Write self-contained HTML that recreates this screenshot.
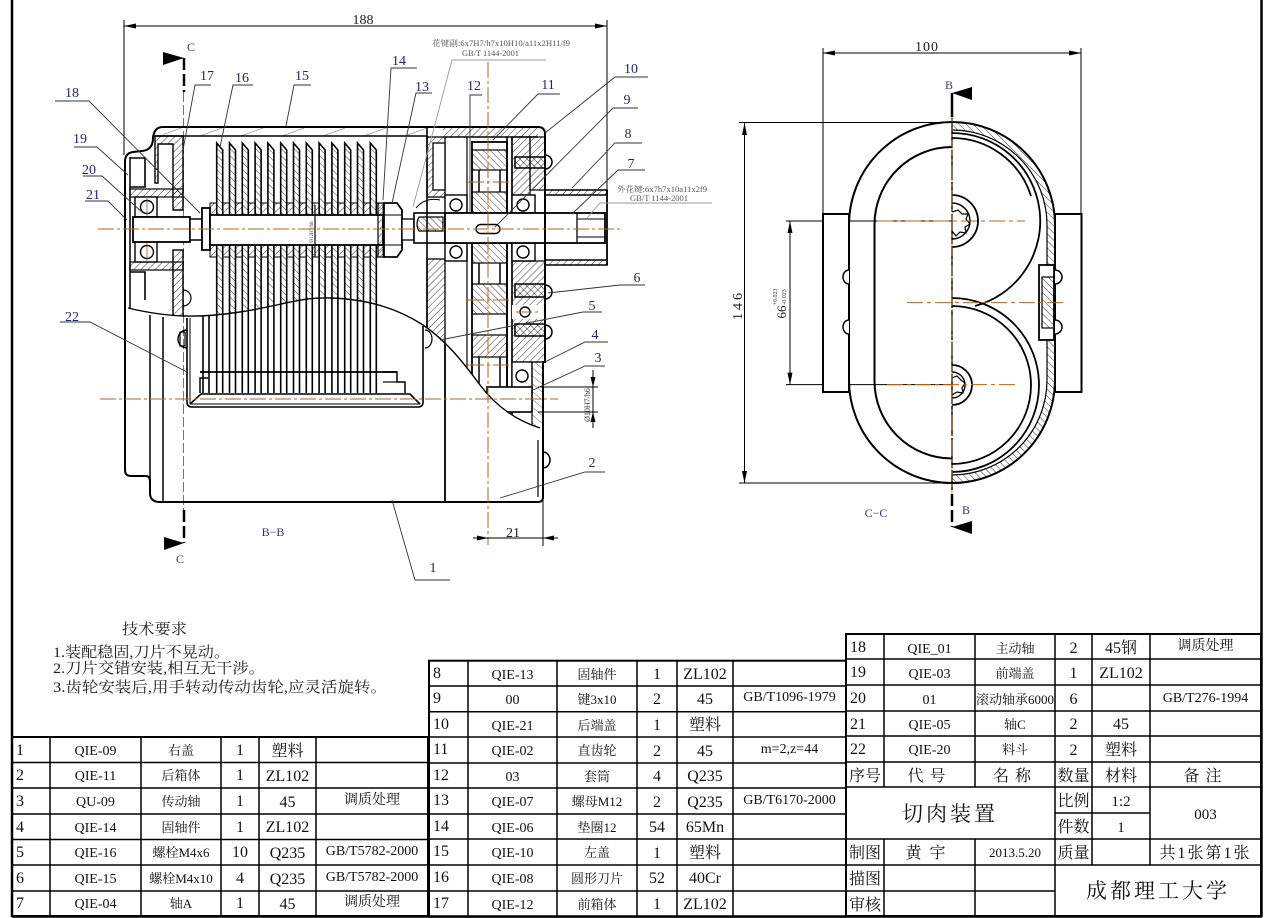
<!DOCTYPE html>
<html><head><meta charset="utf-8"><style>
html,body{margin:0;padding:0;background:#fff;}
svg{display:block;}
text{font-family:"Liberation Serif","Noto Serif CJK SC",serif;}
.cj{font-family:"Liberation Serif","Noto Serif CJK SC",serif;}
</style></head><body>
<svg width="1266" height="918" viewBox="0 0 1266 918" xmlns="http://www.w3.org/2000/svg">
<defs>
<pattern id="h1" patternUnits="userSpaceOnUse" width="5" height="5" patternTransform="rotate(45)"><line x1="0" y1="0" x2="0" y2="5" stroke="#000" stroke-width="0.8"/></pattern>
<pattern id="h2" patternUnits="userSpaceOnUse" width="5" height="5" patternTransform="rotate(-45)"><line x1="0" y1="0" x2="0" y2="5" stroke="#000" stroke-width="0.8"/></pattern>
<pattern id="h3" patternUnits="userSpaceOnUse" width="14" height="14" patternTransform="rotate(70)"><line x1="0" y1="0" x2="0" y2="14" stroke="#000" stroke-width="0.6"/></pattern>
<pattern id="h4" patternUnits="userSpaceOnUse" width="6" height="6" patternTransform="rotate(-50)"><line x1="0" y1="0" x2="0" y2="6" stroke="#000" stroke-width="0.6"/></pattern>
<clipPath id="up"><path d="M90,100 L620,100 L620,430 L540,428 C515,420 495,405 480,385 C460,358 445,340 423,325 C400,310 370,299 330,298 C300,297 280,306 240,312 C200,318 170,318 128,308 L90,308 Z"/></clipPath>
<clipPath id="lo"><path d="M90,308 L128,308 C170,318 200,318 240,312 C280,306 300,297 330,298 C370,299 400,310 423,325 C445,340 460,358 480,385 C495,405 515,420 540,428 L620,430 L620,600 L90,600 Z"/></clipPath>
<g id="bl">
<polygon points="0,143 6,150 6,330 0,330" fill="url(#h2)" stroke="#000" stroke-width="1.6"/>
<rect x="6" y="203" width="6.8" height="12" fill="url(#h1)" stroke="#000" stroke-width="1"/>
<rect x="6" y="245" width="6.8" height="12" fill="url(#h1)" stroke="#000" stroke-width="1"/>
</g>
<g id="bl2" fill="none" stroke="#000" stroke-width="1.6">
<path d="M0,290 L0,393 M6,290 L6,393"/>
</g>
</defs>

<!-- frame -->
<g stroke="#000" fill="none">
<line x1="12" y1="0" x2="12" y2="917" stroke-width="2.5"/>
<line x1="1261.5" y1="0" x2="1261.5" y2="917" stroke-width="2.5"/>
<line x1="12" y1="916.5" x2="1262" y2="916.5" stroke-width="2.5"/>
</g>

<!-- ================= MAIN VIEW B-B ================= -->
<g stroke="#000" stroke-width="1" fill="none">
<line x1="124" y1="26" x2="607" y2="26"/>
<line x1="124" y1="20" x2="124" y2="155"/>
<line x1="607" y1="20" x2="607" y2="190"/>
</g>
<polygon points="124,26 136,23.5 136,28.5" fill="#000"/>
<polygon points="607,26 595,23.5 595,28.5" fill="#000"/>
<text x="363" y="24" font-size="14" text-anchor="middle" fill="#222">188</text>

<polygon points="163,52 184,58 163,65" fill="#000"/>
<line x1="184" y1="58" x2="184" y2="92" stroke="#000" stroke-width="2.5" stroke-dasharray="12,4"/>
<text x="191" y="51" font-size="12" text-anchor="middle" fill="#2a3a7a">C</text>
<line x1="183.5" y1="92" x2="183.5" y2="513" stroke="#555" stroke-width="0.8" stroke-dasharray="10,3"/>
<line x1="184" y1="510" x2="184" y2="543" stroke="#000" stroke-width="2.5" stroke-dasharray="12,4"/>
<polygon points="164,537 184,543 164,550" fill="#000"/>
<text x="180" y="563" font-size="12" text-anchor="middle" fill="#2a3a7a">C</text>
<text x="273" y="536" font-size="12" text-anchor="middle" fill="#2a3a7a">B−B</text>

<rect x="163" y="127" width="280" height="9" fill="url(#h3)"/>
<rect x="443" y="127" width="95" height="10" fill="url(#h1)"/>

<g clip-path="url(#up)">
<rect x="210" y="203" width="6.7" height="12" fill="url(#h1)" stroke="#000" stroke-width="1"/>
<rect x="210" y="245" width="6.7" height="12" fill="url(#h1)" stroke="#000" stroke-width="1"/>
<use href="#bl" x="216.7"/><use href="#bl" x="229.5"/><use href="#bl" x="242.3"/><use href="#bl" x="255.1"/>
<use href="#bl" x="267.9"/><use href="#bl" x="280.7"/><use href="#bl" x="293.5"/><use href="#bl" x="306.3"/>
<use href="#bl" x="319.1"/><use href="#bl" x="331.9"/><use href="#bl" x="344.7"/><use href="#bl" x="357.5"/>
<use href="#bl" x="370.3"/>

<path d="M155,136 L183,136 L183,210 L173,210 L173,144 L158,144 L158,183 L155,183 Z" fill="url(#h1)" stroke="#000" stroke-width="1.4"/>
<rect x="173" y="250" width="10" height="75" fill="url(#h1)" stroke="#000" stroke-width="1.4"/>
<rect x="130" y="189" width="53" height="8" fill="url(#h1)" stroke="#000" stroke-width="1.2"/>
<rect x="130" y="262" width="53" height="8" fill="url(#h1)" stroke="#000" stroke-width="1.2"/>
<path d="M130,158 L145,158 L145,187 L130,187" fill="none" stroke="#000" stroke-width="1.6"/>
<path d="M130,272 L145,272 L145,300" fill="none" stroke="#000" stroke-width="1.6"/>
<rect x="135" y="197" width="22" height="20" fill="#fff" stroke="#000" stroke-width="1.4"/>
<rect x="135" y="242" width="22" height="20" fill="#fff" stroke="#000" stroke-width="1.4"/>
<circle cx="147" cy="207" r="6.5" fill="#fff" stroke="#000" stroke-width="1.4"/>
<circle cx="147" cy="252" r="6.5" fill="#fff" stroke="#000" stroke-width="1.4"/>
<line x1="147" y1="197" x2="147" y2="217" stroke="#a0522d" stroke-width="0.8"/>
<line x1="147" y1="242" x2="147" y2="262" stroke="#a0522d" stroke-width="0.8"/>

<rect x="133" y="217" width="57" height="25" fill="#fff" stroke="#000" stroke-width="1.8"/>
<rect x="190" y="219" width="12" height="21" fill="#fff" stroke="#000" stroke-width="1.5"/>
<rect x="202" y="208" width="8" height="42" fill="#fff" stroke="#000" stroke-width="1.8"/>
<rect x="210" y="215" width="173" height="30" fill="#fff" stroke="#000" stroke-width="1.8"/>
<line x1="315" y1="205" x2="315" y2="257" stroke="#000" stroke-width="1.2"/>
<text transform="translate(313,232) rotate(-90)" font-size="5" text-anchor="middle" fill="#333">Ø12H7/h6</text>
<rect x="378" y="203" width="6" height="54" fill="url(#h1)" stroke="#000" stroke-width="1.2"/>
<path d="M384,203 L397,203 L402,210 L402,250 L397,257 L384,257 Z" fill="#fff" stroke="#000" stroke-width="1.8"/>
<line x1="384" y1="215" x2="402" y2="215" stroke="#000" stroke-width="1"/>
<line x1="384" y1="245" x2="402" y2="245" stroke="#000" stroke-width="1"/>
<rect x="402" y="219" width="12" height="21" fill="#fff" stroke="#000" stroke-width="1.3"/>
<rect x="414" y="213" width="31" height="30" fill="#fff" stroke="#000" stroke-width="1.6"/>
<path d="M419,217 L443,217 L443,231 L419,231 Q415,224 419,217 Z" fill="url(#h2)" stroke="#000" stroke-width="1.2"/>
<path d="M416,208 Q425,197 440,200" fill="none" stroke="#000" stroke-width="1"/>

<line x1="427" y1="127" x2="427" y2="420" stroke="#000" stroke-width="1.6"/>
<rect x="427" y="137" width="18" height="60" fill="url(#h1)" stroke="#000" stroke-width="1.3"/>
<rect x="433" y="143" width="12" height="47" fill="#fff" stroke="#000" stroke-width="1.3"/>
<rect x="427" y="259" width="18" height="90" fill="url(#h1)" stroke="#000" stroke-width="1.3"/>
<line x1="445" y1="137" x2="538" y2="137" stroke="#000" stroke-width="1.6"/>
<rect x="445" y="195" width="22" height="18" fill="#fff" stroke="#000" stroke-width="1.4"/>
<rect x="445" y="243" width="22" height="18" fill="#fff" stroke="#000" stroke-width="1.4"/>
<circle cx="456" cy="205" r="6" fill="#fff" stroke="#000" stroke-width="1.4"/>
<circle cx="456" cy="252" r="6" fill="#fff" stroke="#000" stroke-width="1.4"/>
<line x1="467" y1="137" x2="467" y2="410" stroke="#000" stroke-width="1.2"/>
<rect x="472" y="142" width="35" height="71" fill="#fff" stroke="#000" stroke-width="1.8"/>
<rect x="472" y="150" width="35" height="20" fill="url(#h2)" stroke="#000" stroke-width="1.2"/>
<rect x="472" y="192" width="35" height="21" fill="url(#h2)" stroke="#000" stroke-width="1.2"/>
<line x1="479" y1="170" x2="479" y2="192" stroke="#000" stroke-width="1.5"/>
<line x1="500" y1="170" x2="500" y2="192" stroke="#000" stroke-width="1.5"/>
<rect x="472" y="243" width="35" height="165" fill="#fff" stroke="#000" stroke-width="1.8"/>
<rect x="472" y="243" width="35" height="20" fill="url(#h2)" stroke="#000" stroke-width="1.2"/>
<rect x="472" y="284" width="35" height="30" fill="url(#h2)" stroke="#000" stroke-width="1.2"/>
<rect x="472" y="335" width="35" height="22" fill="url(#h1)" stroke="#000" stroke-width="1.2"/>
<line x1="479" y1="263" x2="479" y2="284" stroke="#000" stroke-width="1.5"/>
<line x1="500" y1="263" x2="500" y2="284" stroke="#000" stroke-width="1.5"/>
<line x1="479" y1="357" x2="479" y2="400" stroke="#000" stroke-width="1.5"/>
<line x1="500" y1="357" x2="500" y2="400" stroke="#000" stroke-width="1.5"/>
<line x1="507" y1="137" x2="507" y2="415" stroke="#000" stroke-width="1.6"/>
<line x1="512" y1="137" x2="512" y2="415" stroke="#000" stroke-width="1.6"/>
<rect x="512" y="137" width="18" height="58" fill="url(#h1)" stroke="#000" stroke-width="1.2"/>
<rect x="530" y="137" width="15" height="53" fill="url(#h1)" stroke="#000" stroke-width="1.2"/>
<rect x="515" y="157" width="30" height="11" fill="url(#h2)" stroke="#000" stroke-width="1.5"/>
<rect x="512" y="195" width="23" height="18" fill="#fff" stroke="#000" stroke-width="1.4"/>
<rect x="512" y="243" width="23" height="18" fill="#fff" stroke="#000" stroke-width="1.4"/>
<circle cx="523" cy="205" r="6" fill="#fff" stroke="#000" stroke-width="1.4"/>
<circle cx="523" cy="252" r="6" fill="#fff" stroke="#000" stroke-width="1.4"/>
<rect x="512" y="261" width="33" height="101" fill="url(#h1)" stroke="#000" stroke-width="1.2"/>
<rect x="515" y="284" width="30" height="13" fill="url(#h2)" stroke="#000" stroke-width="1.5"/>
<rect x="515" y="324" width="30" height="12" fill="url(#h2)" stroke="#000" stroke-width="1.5"/>
<rect x="512" y="305" width="33" height="14" fill="#fff" stroke="none"/>
<circle cx="525" cy="312" r="5" fill="#fff" stroke="#000" stroke-width="1.4"/>
<rect x="512" y="362" width="20" height="28" fill="#fff" stroke="#000" stroke-width="1.3"/>
<circle cx="522" cy="376" r="6" fill="#fff" stroke="#000" stroke-width="1.4"/>
<rect x="532" y="362" width="11" height="78" fill="url(#h4)" stroke="#000" stroke-width="1.2"/>
<rect x="445" y="213" width="160" height="30" fill="#fff" stroke="#000" stroke-width="1.8"/>
<rect x="476" y="224.5" width="24" height="9" rx="4.5" fill="#fff" stroke="#000" stroke-width="1.4"/>
<line x1="577" y1="213" x2="577" y2="243" stroke="#000" stroke-width="1.3"/>
<line x1="577" y1="219" x2="605" y2="219" stroke="#000" stroke-width="1"/>
<line x1="577" y1="237" x2="605" y2="237" stroke="#000" stroke-width="1"/>
<rect x="487" y="387" width="45" height="25" fill="#fff" stroke="#000" stroke-width="1.6"/>
</g>

<rect x="545" y="190" width="62" height="5" fill="url(#h1)" stroke="#000" stroke-width="1.5"/>
<rect x="545" y="260" width="62" height="5" fill="url(#h1)" stroke="#000" stroke-width="1.5"/>
<line x1="607" y1="190" x2="607" y2="265" stroke="#000" stroke-width="1.8"/>

<g clip-path="url(#lo)">
<use href="#bl2" x="203"/><use href="#bl2" x="216.7"/><use href="#bl2" x="229.5"/><use href="#bl2" x="242.3"/><use href="#bl2" x="255.1"/>
<use href="#bl2" x="267.9"/><use href="#bl2" x="280.7"/><use href="#bl2" x="293.5"/><use href="#bl2" x="306.3"/>
<use href="#bl2" x="319.1"/><use href="#bl2" x="331.9"/><use href="#bl2" x="344.7"/><use href="#bl2" x="357.5"/>
<use href="#bl2" x="370.3"/>
</g>
<g stroke="#000" fill="none">
<line x1="200" y1="372" x2="397" y2="372" stroke-width="1.8"/>
<path d="M200,393 L200,378 L208,378" stroke-width="1.5"/>
<path d="M383,372 L397,372 L397,382 L405,382 L405,393" stroke-width="1.5"/>
<line x1="383" y1="382" x2="397" y2="382" stroke-width="1.2"/>
<path d="M187,318 L187,402 Q187,407 192,407 L418,407 Q423,407 423,402 L423,326" stroke-width="1.6"/>
<line x1="190" y1="318" x2="190" y2="404" stroke-width="1"/>
<path d="M190,404 L201,394 L410,394 L420,404" stroke-width="1.6"/>
<line x1="190" y1="404" x2="420" y2="404" stroke-width="1"/>
<path d="M187,330 A9,9 0 0 0 187,348" stroke-width="1.4"/>
<rect x="180" y="332" width="5" height="14" stroke-width="1.2"/>
<path d="M425,330 A7,9 0 0 1 425,348" stroke-width="1.2"/>
<path d="M183,290 A8,8 0 0 1 183,306" stroke-width="1.2"/>
</g>

<path d="M128,308 C170,318 200,318 240,312 C280,306 300,297 330,298 C370,299 400,310 423,325 C445,340 460,358 480,385 C495,405 515,420 540,428" fill="none" stroke="#000" stroke-width="1.4"/>

<g stroke="#000" fill="none" stroke-width="2">
<path d="M163,127 L538,127 Q545,127 545,134 L545,362 L543,362 L543,497 Q543,502 538,502 L160,502 Q150,502 150,493 L150,482 Q150,476 146,476 L131,476 Q125,476 125,470 L125,162 Q125,153 133,152 L142,151 Q153,150 153,138 Q154,127 163,127 Z"/>
<line x1="130" y1="157" x2="130" y2="308" stroke-width="1.5"/>
<line x1="150" y1="315" x2="150" y2="482" stroke-width="1.5"/>
<line x1="163" y1="317" x2="163" y2="502" stroke-width="1.5"/>
<line x1="155" y1="136" x2="427" y2="136" stroke-width="1.5"/>
<line x1="445" y1="343" x2="445" y2="502" stroke-width="1.8"/>
<line x1="538" y1="440" x2="538" y2="497" stroke-width="1.2"/>
<path d="M545,155 A7,7 0 0 1 545,169" stroke-width="1.5"/>
<path d="M545,285 A7,7 0 0 1 545,299" stroke-width="1.5"/>
<path d="M545,325 A7,7 0 0 1 545,339" stroke-width="1.5"/>
<path d="M543,452 A7,8 0 0 1 543,468" stroke-width="1.5"/>
</g>

<g stroke="#b5651d" stroke-width="1" stroke-dasharray="16,3,3,3" fill="none">
<line x1="98" y1="229" x2="620" y2="229"/>
<line x1="100" y1="399" x2="558" y2="399"/>
<line x1="488" y1="62" x2="488" y2="545"/>
<line x1="468" y1="182" x2="512" y2="182"/>
<line x1="468" y1="300" x2="512" y2="300"/>
<line x1="468" y1="365" x2="512" y2="365"/>
<line x1="516" y1="312" x2="540" y2="312"/>
</g>

<g stroke="#000" stroke-width="1" fill="none">
<line x1="473" y1="538" x2="558" y2="538"/>
<line x1="543" y1="497" x2="543" y2="546"/>
<line x1="538" y1="387" x2="598" y2="387"/>
<line x1="538" y1="412" x2="598" y2="412"/>
<line x1="593" y1="370" x2="593" y2="428"/>
</g>
<polygon points="488,538 477,535.5 477,540.5" fill="#000"/>
<polygon points="543,538 554,535.5 554,540.5" fill="#000"/>
<polygon points="593,387 590.5,377 595.5,377" fill="#000"/>
<polygon points="593,412 590.5,422 595.5,422" fill="#000"/>
<text x="513" y="537" font-size="14" text-anchor="middle" fill="#222">21</text>
<text transform="translate(590,405) rotate(-90)" font-size="8" text-anchor="middle" fill="#333">Ø10H7/h6</text>

<g stroke="#333" stroke-width="0.9" fill="none">
<path d="M211,85 L195,85 L183,150"/>
<path d="M253,85 L233,85 L220,147"/>
<path d="M311,85 L294,85 L286,126"/>
<path d="M55,101 L89,101 L200,213"/>
<path d="M74,147 L97,147 L128,175"/>
<path d="M83,176 L102,176 L143,213"/>
<path d="M85,201 L108,201 L127,220"/>
<path d="M60,322 L90,322 L187,372"/>
<path d="M417,68 L391,68 L383,200"/>
<path d="M432,93 L416,93 L392,203"/>
<path d="M546,60 L452,60 L413,207" stroke="#999"/>
<path d="M482,95 L470,95 L470,213"/>
<path d="M560,94 L538,94 L493,140"/>
<path d="M648,77 L615,77 L545,133"/>
<path d="M638,108 L613,108 L495,227"/>
<path d="M642,143 L615,143 L572,188"/>
<path d="M645,170 L618,170 L573,213"/>
<path d="M712,203 L600,203 L587,218" stroke="#999"/>
<path d="M645,285 L620,285 L548,293"/>
<path d="M602,312 L583,312 L440,340"/>
<path d="M608,342 L585,342 L545,362"/>
<path d="M605,366 L585,366 L533,390"/>
<path d="M605,472 L585,472 L500,498"/>
<path d="M450,580 L415,580 L392,500"/>
</g>
<g font-size="14" fill="#1e2a66" text-anchor="middle">
<text x="207" y="80">17</text>
<text x="242" y="82">16</text>
<text x="302" y="80">15</text>
<text x="72" y="97">18</text>
<text x="80" y="143">19</text>
<text x="89" y="174">20</text>
<text x="93" y="199">21</text>
<text x="72" y="321">22</text>
<text x="399" y="65">14</text>
<text x="422" y="91">13</text>
<text x="474" y="90">12</text>
<text x="548" y="89">11</text>
<text x="631" y="73">10</text>
<text x="627" y="104">9</text>
<text x="628" y="138">8</text>
<text x="631" y="168">7</text>
<text x="637" y="282">6</text>
<text x="592" y="310">5</text>
<text x="595" y="339">4</text>
<text x="598" y="362">3</text>
<text x="592" y="467">2</text>
<text x="433" y="572">1</text>
</g>
<g font-size="8" fill="#555">
<text x="432" y="46" textLength="138" lengthAdjust="spacingAndGlyphs">花键副:6x7H7/h7x10H10/a11x2H11/f9</text>
<text x="462" y="56" textLength="57" lengthAdjust="spacingAndGlyphs">GB/T 1144-2001</text>
<text x="617" y="192" textLength="90" lengthAdjust="spacingAndGlyphs">外花键:6x7h7x10a11x2f9</text>
<text x="630" y="201" textLength="58" lengthAdjust="spacingAndGlyphs">GB/T 1144-2001</text>
</g>

<!-- ================= RIGHT VIEW C-C ================= -->
<g stroke="#000" stroke-width="1" fill="none">
<line x1="823" y1="53" x2="1081" y2="53"/>
<line x1="823" y1="48" x2="823" y2="214"/>
<line x1="1081" y1="48" x2="1081" y2="214"/>
<line x1="744.5" y1="123" x2="744.5" y2="483"/>
<line x1="739" y1="122.5" x2="952" y2="122.5"/>
<line x1="739" y1="483" x2="952" y2="483"/>
<line x1="790" y1="221" x2="790" y2="384.6"/>
<line x1="786" y1="221" x2="952" y2="221"/>
<line x1="786" y1="384.6" x2="952" y2="384.6"/>
</g>
<polygon points="823,53 835,50.5 835,55.5" fill="#000"/>
<polygon points="1081,53 1069,50.5 1069,55.5" fill="#000"/>
<polygon points="744.5,123 742,135 747,135" fill="#000"/>
<polygon points="744.5,483 742,471 747,471" fill="#000"/>
<polygon points="790,221 787.5,233 792.5,233" fill="#000"/>
<polygon points="790,384.6 787.5,372.6 792.5,372.6" fill="#000"/>
<text x="927" y="51" font-size="14" text-anchor="middle" fill="#222" letter-spacing="1">100</text>
<text transform="translate(742,305) rotate(-90)" font-size="14" text-anchor="middle" fill="#222" letter-spacing="3">146</text>
<text transform="translate(786,312) rotate(-90)" font-size="13" text-anchor="middle" fill="#222">66</text>
<text transform="translate(777,297) rotate(-90)" font-size="6" text-anchor="middle" fill="#333">+0.023</text>
<text transform="translate(786,297) rotate(-90)" font-size="6" text-anchor="middle" fill="#333">-0.023</text>

<rect x="823" y="214" width="26" height="178" fill="#fff" stroke="#000" stroke-width="2"/>
<rect x="1055" y="214" width="26.5" height="178" fill="#fff" stroke="#000" stroke-width="2"/>
<path d="M952,122 A103,103 0 0 1 1055,225 L1055,380 A103,103 0 0 1 952,483 L952,475 A95,95 0 0 0 1047,380 L1047,225 A95,95 0 0 0 952,130 Z" fill="url(#h2)" stroke="#000" stroke-width="1.2"/>
<path d="M952,122 A103,103 0 0 0 849,225 L849,380 A103,103 0 0 0 952,483 A103,103 0 0 0 1055,380 L1055,225 A103,103 0 0 0 952,122 Z" fill="none" stroke="#000" stroke-width="2"/>
<path d="M952,147 A77.5,77.5 0 0 0 874.5,224.5 L874.5,381 A77.5,77.5 0 0 0 952,458.5" fill="none" stroke="#000" stroke-width="2"/>
<g fill="none" stroke="#000" stroke-width="1.8">
<path d="M952,133 A88,88 0 0 1 975,306"/>
<path d="M952,138 A83,83 0 0 1 1031,196"/>
<path d="M952,298 A87,87 0 0 1 952,472"/>
<path d="M952,306 A79,79 0 0 1 952,464"/>
<path d="M952,195 A26,26 0 0 1 952,247"/>
<path d="M952,203 A18,18 0 0 1 952,239" stroke-width="1.4"/>
<path d="M952,212 L958,210 L962,214 L968,214 L966,219 L970,224 L965,227 L966,233 L960,232 L956,236 L952,231" stroke-width="1.2"/>
<path d="M952,365 A20,20 0 0 1 952,405"/>
<path d="M952,372 A13,13 0 0 1 952,398" stroke-width="1.4"/>
<path d="M952,378 L957,376 L961,380 L965,383 L962,388 L963,393 L957,392 L952,395" stroke-width="1.2"/>
</g>
<g fill="#fff" stroke="#000" stroke-width="1.5">
<path d="M849,270 A6,7 0 0 0 849,284"/>
<path d="M849,320 A6,7 0 0 0 849,334"/>
<path d="M1055,270 A7,7 0 0 1 1055,284"/>
<path d="M1055,320 A7,7 0 0 1 1055,334"/>
<rect x="1039" y="265" width="15" height="75" stroke-width="1.8"/>
<rect x="1042" y="277" width="12" height="51" stroke-width="1.2" fill="url(#h2)"/>
</g>
<line x1="952" y1="118" x2="952" y2="490" stroke="#000" stroke-width="1.4" stroke-dasharray="30,2"/>
<line x1="952" y1="115" x2="952" y2="495" stroke="#b5651d" stroke-width="0.7" stroke-dasharray="16,3,3,3"/>
<g stroke="#b5651d" stroke-width="1" stroke-dasharray="16,4,4,4">
<line x1="877" y1="221" x2="1025" y2="221"/>
<line x1="887" y1="384.6" x2="1017" y2="384.6"/>
<line x1="907" y1="302.6" x2="1067" y2="302.6"/>
</g>
<line x1="952" y1="93" x2="952" y2="117" stroke="#000" stroke-width="2.5"/>
<polygon points="952,93 972,87 972,100" fill="#000"/>
<text x="949" y="89" font-size="12" text-anchor="middle" fill="#2a3a7a">B</text>
<line x1="952" y1="494" x2="952" y2="527" stroke="#000" stroke-width="2.5" stroke-dasharray="12,4"/>
<polygon points="952,527 972,521 972,534" fill="#000"/>
<text x="966" y="514" font-size="12" text-anchor="middle" fill="#2a3a7a">B</text>
<text x="876" y="517" font-size="12" text-anchor="middle" fill="#2a3a7a">C−C</text>

<!-- ================= TECH REQUIREMENTS ================= -->
<g font-size="15" fill="#222" class="cj">
<text x="122" y="634" textLength="65" lengthAdjust="spacingAndGlyphs">技术要求</text>
<text x="53" y="657" textLength="177" lengthAdjust="spacingAndGlyphs">1.装配稳固,刀片不晃动。</text>
<text x="53" y="673" textLength="212" lengthAdjust="spacingAndGlyphs">2.刀片交错安装,相互无干涉。</text>
<text x="53" y="692" textLength="334" lengthAdjust="spacingAndGlyphs">3.齿轮安装后,用手转动传动齿轮,应灵活旋转。</text>
</g>

<!-- ================= TABLES ================= -->
<g stroke="#000" stroke-width="1.5" fill="none">
<rect x="12" y="737" width="416" height="179" stroke-width="2"/>
<line x1="12" y1="762.5" x2="428" y2="762.5"/>
<line x1="12" y1="788" x2="428" y2="788"/>
<line x1="12" y1="814" x2="428" y2="814"/>
<line x1="12" y1="839.5" x2="428" y2="839.5"/>
<line x1="12" y1="865" x2="428" y2="865"/>
<line x1="12" y1="891" x2="428" y2="891"/>
<line x1="50" y1="737" x2="50" y2="916"/>
<line x1="141" y1="737" x2="141" y2="916"/>
<line x1="221" y1="737" x2="221" y2="916"/>
<line x1="259" y1="737" x2="259" y2="916"/>
<line x1="316" y1="737" x2="316" y2="916"/>
<rect x="429" y="660.7" width="417" height="256" stroke-width="2"/>
<line x1="429" y1="686" x2="846" y2="686"/>
<line x1="429" y1="711.7" x2="846" y2="711.7"/>
<line x1="429" y1="737" x2="846" y2="737"/>
<line x1="429" y1="763" x2="846" y2="763"/>
<line x1="429" y1="788" x2="846" y2="788"/>
<line x1="429" y1="814" x2="846" y2="814"/>
<line x1="429" y1="839" x2="846" y2="839"/>
<line x1="429" y1="865" x2="846" y2="865"/>
<line x1="429" y1="891" x2="846" y2="891"/>
<line x1="468" y1="660.7" x2="468" y2="916"/>
<line x1="557" y1="660.7" x2="557" y2="916"/>
<line x1="637" y1="660.7" x2="637" y2="916"/>
<line x1="677" y1="660.7" x2="677" y2="916"/>
<line x1="733" y1="660.7" x2="733" y2="916"/>
<rect x="846" y="634" width="415" height="282" stroke-width="2"/>
<line x1="846" y1="659" x2="1261" y2="659"/>
<line x1="846" y1="685" x2="1261" y2="685"/>
<line x1="846" y1="711" x2="1261" y2="711"/>
<line x1="846" y1="736" x2="1261" y2="736"/>
<line x1="846" y1="762" x2="1261" y2="762"/>
<line x1="846" y1="787" x2="1261" y2="787"/>
<line x1="1055" y1="813" x2="1150" y2="813"/>
<line x1="846" y1="839" x2="1261" y2="839"/>
<line x1="846" y1="865" x2="1261" y2="865"/>
<line x1="846" y1="891" x2="1055" y2="891"/>
<line x1="884" y1="634" x2="884" y2="787"/>
<line x1="975" y1="634" x2="975" y2="787"/>
<line x1="1055" y1="634" x2="1055" y2="916"/>
<line x1="1092" y1="634" x2="1092" y2="865"/>
<line x1="1150" y1="634" x2="1150" y2="865"/>
<line x1="884" y1="839" x2="884" y2="916"/>
<line x1="975" y1="839" x2="975" y2="916"/>
</g>

<g fill="#111">
<g font-size="16"><text x="16" y="755">1</text><text x="16" y="780">2</text><text x="16" y="806">3</text><text x="16" y="832">4</text><text x="16" y="857">5</text><text x="16" y="883">6</text><text x="16" y="908">7</text></g>
<g font-size="14" text-anchor="middle"><text x="95.5" y="755">QIE-09</text><text x="95.5" y="780">QIE-11</text><text x="95.5" y="806">QU-09</text><text x="95.5" y="832">QIE-14</text><text x="95.5" y="857">QIE-16</text><text x="95.5" y="883">QIE-15</text><text x="95.5" y="908">QIE-04</text></g>
<g font-size="13" text-anchor="middle"><text x="181" y="755">右盖</text><text x="181" y="780">后箱体</text><text x="181" y="806">传动轴</text><text x="181" y="832">固轴件</text><text x="181" y="857">螺栓M4x6</text><text x="181" y="883">螺栓M4x10</text><text x="181" y="908">轴A</text></g>
<g font-size="16" text-anchor="middle"><text x="240" y="755">1</text><text x="240" y="780">1</text><text x="240" y="806">1</text><text x="240" y="832">1</text><text x="240" y="857">10</text><text x="240" y="883">4</text><text x="240" y="908">1</text></g>
<g font-size="16" text-anchor="middle"><text x="287.5" y="756">塑料</text><text x="287.5" y="781">ZL102</text><text x="287.5" y="807">45</text><text x="287.5" y="832">ZL102</text><text x="287.5" y="858">Q235</text><text x="287.5" y="884">Q235</text><text x="287.5" y="909">45</text></g>
<g font-size="14" text-anchor="middle"><text x="372" y="804">调质处理</text><text x="372" y="855">GB/T5782-2000</text><text x="372" y="881">GB/T5782-2000</text><text x="372" y="906">调质处理</text></g>
</g>

<g fill="#111">
<g font-size="16"><text x="433" y="678">8</text><text x="433" y="703">9</text><text x="433" y="729">10</text><text x="433" y="754">11</text><text x="433" y="780">12</text><text x="433" y="805">13</text><text x="433" y="831">14</text><text x="433" y="856">15</text><text x="433" y="882">16</text><text x="433" y="908">17</text></g>
<g font-size="14" text-anchor="middle"><text x="512.5" y="679">QIE-13</text><text x="512.5" y="704">00</text><text x="512.5" y="730">QIE-21</text><text x="512.5" y="755">QIE-02</text><text x="512.5" y="781">03</text><text x="512.5" y="806">QIE-07</text><text x="512.5" y="832">QIE-06</text><text x="512.5" y="857">QIE-10</text><text x="512.5" y="883">QIE-08</text><text x="512.5" y="909">QIE-12</text></g>
<g font-size="13" text-anchor="middle"><text x="597" y="679">固轴件</text><text x="597" y="704">键3x10</text><text x="597" y="730">后端盖</text><text x="597" y="755">直齿轮</text><text x="597" y="781">套筒</text><text x="597" y="806">螺母M12</text><text x="597" y="832">垫圈12</text><text x="597" y="857">左盖</text><text x="597" y="883">圆形刀片</text><text x="597" y="909">前箱体</text></g>
<g font-size="16" text-anchor="middle"><text x="657" y="679">1</text><text x="657" y="704">2</text><text x="657" y="730">1</text><text x="657" y="756">2</text><text x="657" y="781">4</text><text x="657" y="807">2</text><text x="657" y="832">54</text><text x="657" y="858">1</text><text x="657" y="883">52</text><text x="657" y="909">1</text></g>
<g font-size="16" text-anchor="middle"><text x="705" y="679">ZL102</text><text x="705" y="704">45</text><text x="705" y="730">塑料</text><text x="705" y="756">45</text><text x="705" y="781">Q235</text><text x="705" y="807">Q235</text><text x="705" y="832">65Mn</text><text x="705" y="858">塑料</text><text x="705" y="883">40Cr</text><text x="705" y="909">ZL102</text></g>
<g font-size="14" text-anchor="middle"><text x="789.5" y="701">GB/T1096-1979</text><text x="789.5" y="753">m=2,z=44</text><text x="789.5" y="804">GB/T6170-2000</text></g>
</g>

<g fill="#111">
<g font-size="16"><text x="850" y="652">18</text><text x="850" y="677">19</text><text x="850" y="703">20</text><text x="850" y="729">21</text><text x="850" y="754">22</text></g>
<g font-size="14" text-anchor="middle"><text x="929.5" y="653">QIE_01</text><text x="929.5" y="678">QIE-03</text><text x="929.5" y="704">01</text><text x="929.5" y="729">QIE-05</text><text x="929.5" y="754">QIE-20</text></g>
<g font-size="13" text-anchor="middle"><text x="1015" y="653">主动轴</text><text x="1015" y="678">前端盖</text><text x="1015" y="704" textLength="78" lengthAdjust="spacingAndGlyphs">滚动轴承6000</text><text x="1015" y="729">轴C</text><text x="1015" y="754">料斗</text></g>
<g font-size="16" text-anchor="middle"><text x="1073.5" y="653">2</text><text x="1073.5" y="678">1</text><text x="1073.5" y="704">6</text><text x="1073.5" y="729">2</text><text x="1073.5" y="755">2</text></g>
<g font-size="16" text-anchor="middle"><text x="1121" y="653">45钢</text><text x="1121" y="678">ZL102</text><text x="1121" y="729">45</text><text x="1121" y="755">塑料</text></g>
<g font-size="14" text-anchor="middle"><text x="1205.5" y="650">调质处理</text><text x="1205.5" y="702">GB/T276-1994</text></g>
<g font-size="16" text-anchor="middle"><text x="865" y="781">序号</text><text x="929.5" y="781" letter-spacing="6">代号</text><text x="1015" y="781" letter-spacing="6">名称</text><text x="1073.5" y="781">数量</text><text x="1121" y="781">材料</text><text x="1205.5" y="781" letter-spacing="6">备注</text></g>
<text x="950" y="821" font-size="21" text-anchor="middle" letter-spacing="3">切肉装置</text>
<g font-size="16" text-anchor="middle"><text x="1073.5" y="806">比例</text><text x="1073.5" y="832">件数</text><text x="1121" y="806" font-size="15">1:2</text><text x="1121" y="832" font-size="15">1</text><text x="1205.5" y="819" font-size="15">003</text></g>
<g font-size="16" text-anchor="middle"><text x="865" y="858">制图</text><text x="865" y="884">描图</text><text x="865" y="910">审核</text><text x="929.5" y="858" letter-spacing="8">黄宇</text><text x="1015" y="857" font-size="13">2013.5.20</text><text x="1073.5" y="858">质量</text><text x="1205.5" y="858" letter-spacing="2">共1张第1张</text></g>
<text x="1158" y="898" font-size="21" text-anchor="middle" letter-spacing="3">成都理工大学</text>
</g>
</svg>
</body></html>
